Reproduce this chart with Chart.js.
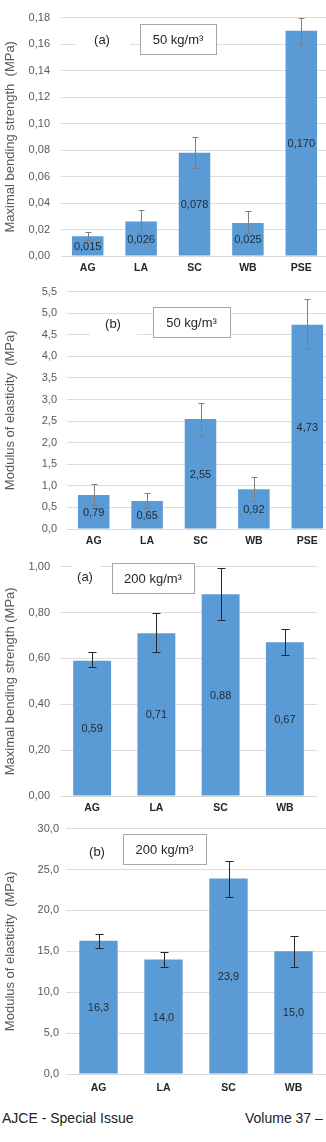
<!DOCTYPE html>
<html><head><meta charset="utf-8">
<script src="https://cdn.jsdelivr.net/npm/chart.js@4/dist/chart.umd.min.js"></script>
<style>
html,body{margin:0;padding:0;width:326px;height:1142px;overflow:hidden;background:#fff;position:relative;}
canvas{position:absolute;left:0;}
.foot{position:absolute;font-family:"Liberation Sans",Arial,sans-serif;font-size:14px;color:#222;line-height:16px;white-space:nowrap;}
</style></head><body>
<canvas id="c1" width="328" height="275" style="top:0px"></canvas>
<canvas id="c2" width="334" height="273" style="top:275px"></canvas>
<canvas id="c3" width="317" height="265" style="top:550px"></canvas>
<canvas id="c4" width="326" height="278" style="top:815px"></canvas>
<div class="foot" style="left:2px;top:1110px">AJCE - Special Issue</div>
<div class="foot" style="left:245px;top:1110px">Volume 37 –</div>
<script>
// ---- data ----
const categories5 = ['AG', 'LA', 'SC', 'WB', 'PSE'];
const categories4 = ['AG', 'LA', 'SC', 'WB'];

const strength50 = [0.015, 0.026, 0.078, 0.025, 0.170];
const strength50Low = [0.012, 0.0175, 0.0665, 0.017, 0.160];
const strength50High = [0.018, 0.035, 0.090, 0.0337, 0.180];

const modulus50 = [0.79, 0.65, 2.55, 0.92, 4.73];
const modulus50Low = [0.55, 0.48, 2.16, 0.66, 4.17];
const modulus50High = [1.05, 0.84, 2.93, 1.20, 5.32];

const strength200 = [0.59, 0.71, 0.88, 0.67];
const strength200Low = [0.561, 0.628, 0.769, 0.615];
const strength200High = [0.626, 0.798, 0.993, 0.726];

const modulus200 = [16.3, 14.0, 23.9, 15.0];
const modulus200Low = [15.4, 13.1, 21.65, 13.1];
const modulus200High = [17.1, 14.9, 26.1, 16.9];

const yAxis1 = {max: 0.18, step: 0.02, decimals: 2};
const yAxis2 = {max: 5.5, step: 0.5, decimals: 1};
const yAxis3 = {max: 1.0, step: 0.2, decimals: 2};
const yAxis4 = {max: 30, step: 5, decimals: 1};

const FONT = '"Liberation Sans", Arial, sans-serif';
const fmt = (v, d) => v.toFixed(d).replace('.', ',');

function makeChart(id, cfg) {
  const errPlugin = {
    id: 'extras' + id,
    afterDraw(chart) {
      const ctx = chart.ctx;
      const meta = chart.getDatasetMeta(0);
      const ys = chart.scales.y;
      // value labels
      ctx.save();
      ctx.font = '11px ' + FONT;
      ctx.fillStyle = '#222b36';
      ctx.textAlign = 'center';
      ctx.textBaseline = 'middle';
      meta.data.forEach((bar, i) => {
        ctx.fillText(fmt(cfg.values[i], cfg.labelDecimals), bar.x, (bar.y + bar.base) / 2 + 1);
      });
      // error bars
      ctx.strokeStyle = cfg.errColor;
      ctx.lineWidth = 1;
      meta.data.forEach((bar, i) => {
        const yt = Math.round(ys.getPixelForValue(cfg.high[i])) + 0.5;
        const yb = Math.round(ys.getPixelForValue(cfg.low[i])) + 0.5;
        const x = Math.round(bar.x) + 0.5;
        const c = cfg.cap / 2;
        ctx.beginPath();
        ctx.moveTo(x, yt); ctx.lineTo(x, yb);
        ctx.moveTo(x - c, yt); ctx.lineTo(x + c, yt);
        ctx.moveTo(x - c, yb); ctx.lineTo(x + c, yb);
        ctx.stroke();
      });
      // annotations
      const a = cfg.ann;
      ctx.fillStyle = '#fff';
      ctx.fillRect(a.tagRect[0], a.tagRect[1], a.tagRect[2], a.tagRect[3]);
      ctx.font = '13px ' + FONT;
      ctx.fillStyle = '#262626';
      ctx.fillText(a.tag, a.tagPos[0], a.tagPos[1]);
      ctx.fillStyle = '#fff';
      ctx.fillRect(a.box[0], a.box[1], a.box[2], a.box[3]);
      ctx.strokeStyle = '#a6a6a6';
      ctx.strokeRect(a.box[0] + 0.5, a.box[1] + 0.5, a.box[2], a.box[3]);
      ctx.fillStyle = '#262626';
      ctx.fillText(a.text, a.box[0] + a.box[2] / 2, a.box[1] + a.box[3] / 2 + 1.5);
      ctx.restore();
    }
  };
  return new Chart(document.getElementById(id), {
    type: 'bar',
    data: {
      labels: cfg.categories,
      datasets: [{
        data: cfg.values,
        backgroundColor: '#5B9BD5',
        borderWidth: 0,
        barPercentage: 0.59,
        categoryPercentage: 1
      }]
    },
    options: {
      responsive: false,
      animation: false,
      events: [],
      layout: {padding: {top: cfg.padTop, left: 0, right: 0, bottom: 0}},
      plugins: {legend: {display: false}, tooltip: {enabled: false}},
      scales: {
        x: {
          grid: {display: false, drawTicks: false},
          border: {display: true, color: '#d9d9d9'},
          ticks: {font: {family: FONT, size: 10.5, weight: 'bold'}, color: '#262626', padding: cfg.xPad},
          afterFit: s => { s.height = 19; }
        },
        y: {
          min: 0, max: cfg.axis.max,
          border: {display: false},
          grid: {color: '#dcdcdc', drawTicks: false},
          ticks: {
            stepSize: cfg.axis.step,
            padding: cfg.yPad,
            font: {family: FONT, size: 11},
            color: '#595959',
            callback: v => fmt(v, cfg.axis.decimals)
          },
          title: {display: true, text: cfg.title, color: '#595959',
                  font: {family: FONT, size: 13}, padding: {top: 3, bottom: 0}},
          afterFit: s => { s.width = cfg.left; }
        }
      }
    },
    plugins: [errPlugin]
  });
}

makeChart('c1', {
  categories: categories5, values: strength50, low: strength50Low, high: strength50High,
  axis: yAxis1, labelDecimals: 3, title: 'Maximal bending strength  (MPa)',
  padTop: 16, left: 61, yPad: 11, xPad: 6, cap: 6, errColor: '#7f7f7f',
  ann: {tag: '(a)', tagPos: [102, 40], tagRect: [75, 28, 55, 26], box: [140, 24, 76, 30], text: '50 kg/m³'}
});
makeChart('c2', {
  categories: categories5, values: modulus50, low: modulus50Low, high: modulus50High,
  axis: yAxis2, labelDecimals: 2, title: 'Modulus of elasticity  (MPa)',
  padTop: 13, left: 67, yPad: 10, xPad: 6, cap: 6, errColor: '#7f7f7f',
  ann: {tag: '(b)', tagPos: [113, 49], tagRect: [90, 41, 47, 26], box: [153, 32, 77, 30], text: '50 kg/m³'}
});
makeChart('c3', {
  categories: categories4, values: strength200, low: strength200Low, high: strength200High,
  axis: yAxis3, labelDecimals: 2, title: 'Maximal bending strength (MPa)',
  padTop: 12, left: 60, yPad: 10, xPad: 6, cap: 8, errColor: '#262626',
  ann: {tag: '(a)', tagPos: [85, 27], tagRect: [72, 16, 28, 22], box: [112, 13, 82, 30], text: '200 kg/m³'}
});
makeChart('c4', {
  categories: categories4, values: modulus200, low: modulus200Low, high: modulus200High,
  axis: yAxis4, labelDecimals: 1, title: 'Modulus of elasticity  (MPa)',
  padTop: 11, left: 66, yPad: 7, xPad: 8, cap: 8, errColor: '#262626',
  ann: {tag: '(b)', tagPos: [97, 37], tagRect: [84, 26, 28, 22], box: [123, 19, 83, 30], text: '200 kg/m³'}
});
</script>
</body></html>
